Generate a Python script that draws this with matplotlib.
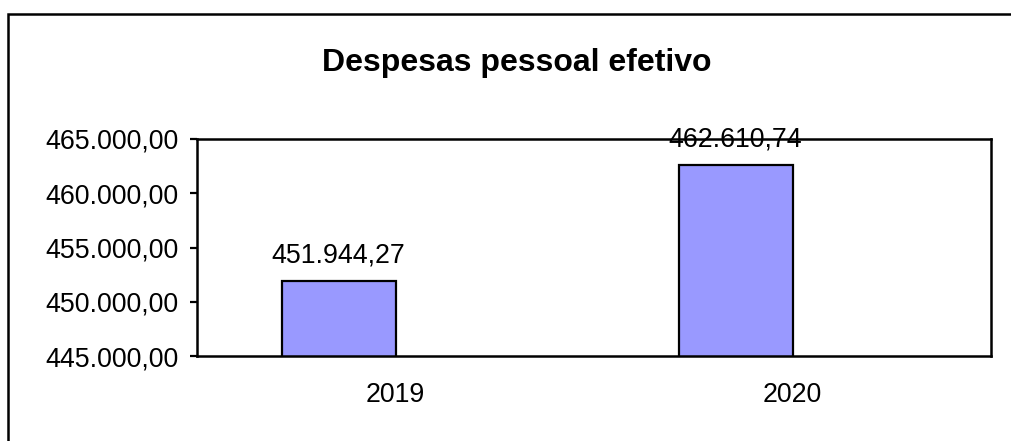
import matplotlib.pyplot as plt
from matplotlib.patches import Rectangle
from matplotlib.ticker import FuncFormatter

# chart data
years = ['2019', '2020']
despesas = [451944.27, 462610.74]
y_ticks = [445000, 450000, 455000, 460000, 465000]

plt.rcParams['font.family'] = ['Liberation Sans', 'DejaVu Sans']


def pt_br(v):
    s = f'{v:,.2f}'
    return s.replace(',', 'X').replace('.', ',').replace('X', '.')


W, H = 1011, 441
fig = plt.figure(figsize=(W / 100, H / 100), dpi=100)

# outer chart frame (open on the right and bottom, as in the original)
fig.add_artist(Rectangle((8 / W, -0.2), 1.3, (1 - 14 / H) + 0.2,
                         transform=fig.transFigure, fill=False,
                         edgecolor='black', linewidth=1.8))

ax = fig.add_axes([197 / W, (H - 356) / H, (991 - 197) / W, (356 - 139) / H])

bar_w = 114 / 397
x = list(range(len(years)))
bars = ax.bar(x, despesas, width=-bar_w, align='edge', color='#9999FF',
              edgecolor='black', linewidth=1.6, zorder=2)

for b, v in zip(bars, despesas):
    ax.annotate(pt_br(v), (b.get_x() + b.get_width() / 2, v),
                xytext=(0, 13), textcoords='offset points',
                ha='center', va='baseline', fontsize=19.3, zorder=3)

ax.set_xlim(-0.5, 1.5)
ax.set_ylim(445000, 465000)
ax.set_yticks(y_ticks)
ax.yaxis.set_major_formatter(FuncFormatter(lambda v, p: pt_br(v)))
ax.set_xticks(x)
ax.set_xticklabels(years)

ax.tick_params(axis='y', direction='out', length=5, width=1.6,
               pad=8.5, labelsize=19.3)
ax.tick_params(axis='x', length=0, pad=19, labelsize=19.3)
for sp in ax.spines.values():
    sp.set_linewidth(1.8)

fig.text(516.7 / W, 1 - 70.7 / H, 'Despesas pessoal efetivo',
         ha='center', va='baseline', fontsize=23, fontweight='bold')

plt.savefig('out.png', dpi=100)
